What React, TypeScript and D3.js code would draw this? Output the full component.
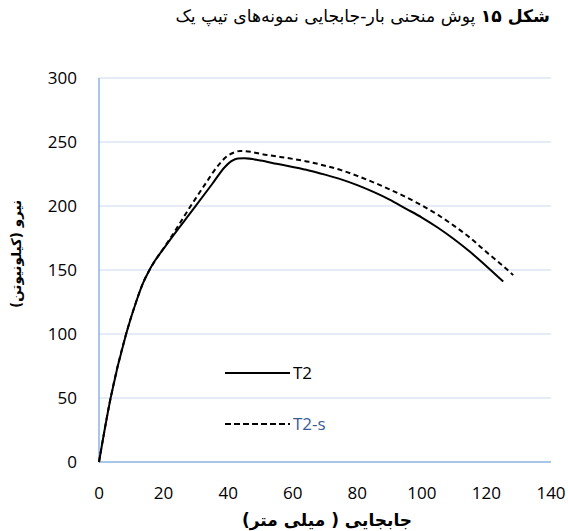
import React from "react";
import * as d3 from "d3";

const t2X = [0, 3.6, 8.4, 11.7, 13.5, 15.3, 17, 19.4, 22, 29.2, 35, 39, 41, 43, 45, 50, 55, 60, 65, 70, 75, 80, 85, 90, 95, 100, 105, 110, 115, 120, 125.2];
const t2Y = [0, 50, 100, 126.6, 139, 148.5, 156, 164.5, 173.5, 197.5, 217, 230.5, 235, 237.2, 237.3, 235.5, 233, 230.5, 227.8, 224.5, 220.8, 216.3, 211, 205, 198, 191, 183, 174, 164, 153, 141];
const t2sX = [0, 3.6, 8.4, 11.7, 13.5, 15.3, 17.3, 20, 22, 27.9, 33, 37, 40, 42, 43.7, 47, 50, 55, 60, 65, 70, 75, 80, 85, 90, 95, 100, 105, 110, 115, 120, 125, 128.3];
const t2sY = [0, 50, 100, 126.6, 139, 148.5, 157, 167, 174.5, 198, 217.5, 232, 239.5, 242, 243, 242.3, 240.8, 238.8, 236.8, 234.5, 231.5, 228, 223.5, 218.5, 213, 207, 200.5, 193, 184.5, 175, 164, 153.5, 146];
const xTicks = [0, 20, 40, 60, 80, 100, 120, 140];
const yTicks = [0, 50, 100, 150, 200, 250, 300];
const seriesNames = ["T2", "T2-s"];
const titleBold = "شکل ۱۵";
const titleRest = " پوش منحنی بار-جابجایی نمونه‌های تیپ یک";
const xLabel = "جابجایی ( میلی متر)";
const yLabel = "نیرو (کیلونیوتن)";

export default function App() {
  const W = 568, H = 531;
  const left = 99, right = 551, top = 78, bottom = 462;
  const x = d3.scaleLinear().domain([0, 140]).range([left, right]);
  const y = d3.scaleLinear().domain([0, 300]).range([bottom, top]);
  const line = d3
    .line<[number, number]>()
    .x((d) => x(d[0]))
    .y((d) => y(d[1]))
    .curve(d3.curveMonotoneX);
  const t2 = t2X.map((v, i) => [v, t2Y[i]] as [number, number]);
  const t2s = t2sX.map((v, i) => [v, t2sY[i]] as [number, number]);
  const numFont = "'Open Sans', sans-serif";
  const faFont = "'DejaVu Sans', sans-serif";
  return (
    <svg width={W} height={H} style={{ position: "absolute", left: 0, top: 0 }}>
      <rect width={W} height={H} fill="#fff" />
      <text x={550} y={22} direction="rtl" textAnchor="start" fontFamily={faFont} fontSize={17.2} fill="#000">
        <tspan fontWeight="bold">{titleBold}</tspan>
        <tspan>{titleRest}</tspan>
      </text>
      {yTicks.slice(1).map((t) => (
        <line key={t} x1={left} x2={right} y1={y(t)} y2={y(t)} stroke="#dce6f2" strokeWidth={1.3} />
      ))}
      <line x1={left} x2={left} y1={top} y2={bottom} stroke="#8db3e2" strokeWidth={1.5} />
      <line x1={left} x2={right} y1={bottom} y2={bottom} stroke="#8db3e2" strokeWidth={1.5} />
      {yTicks.map((t) => (
        <text key={t} x={77} y={y(t) + 6} textAnchor="end" fontFamily={numFont} fontSize={17} fill="#000">
          {t}
        </text>
      ))}
      {xTicks.map((t) => (
        <text key={t} x={x(t)} y={499} textAnchor="middle" fontFamily={numFont} fontSize={17} fill="#000">
          {t}
        </text>
      ))}
      <path d={line(t2) || ""} fill="none" stroke="#000" strokeWidth={2} />
      <path d={line(t2s) || ""} fill="none" stroke="#000" strokeWidth={2} strokeDasharray="5,3.5" />
      <line x1={225} x2={290} y1={373} y2={373} stroke="#000" strokeWidth={2} />
      <text x={293} y={379} fontFamily={numFont} fontSize={17} fill="#000">{seriesNames[0]}</text>
      <line x1={225} x2={290} y1={424} y2={424} stroke="#000" strokeWidth={2} strokeDasharray="6,3" />
      <text x={293} y={430} fontFamily={numFont} fontSize={17} fill="#3a5a94">{seriesNames[1]}</text>
      <text x={327} y={526} direction="rtl" textAnchor="middle" fontFamily={faFont} fontWeight="bold" fontSize={17} fill="#000">
        {xLabel}
      </text>
      <text
        transform={`translate(21,${254}) rotate(-90)`}
        direction="rtl"
        textAnchor="middle"
        fontFamily={faFont}
        fontWeight="bold"
        fontSize={13.5}
        fill="#000"
      >
        {yLabel}
      </text>
    </svg>
  );
}
